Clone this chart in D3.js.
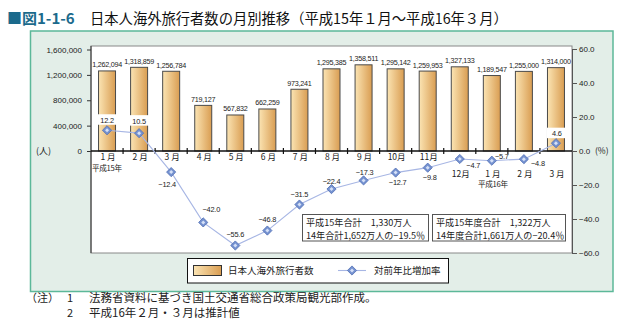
<!DOCTYPE html>
<html><head><meta charset="utf-8">
<script src="https://cdn.jsdelivr.net/npm/d3@7/dist/d3.min.js"></script>
<style>
html,body{margin:0;padding:0;background:#fff;}
svg{display:block;}
text{font-family:"Liberation Sans",Arial,sans-serif;}
.jp{font-family:"Noto Sans CJK JP","Noto Sans",sans-serif;}
</style></head>
<body>
<svg id="c" width="622" height="332"></svg>
<script>
// ---- data ----
const months = ["1 月","2 月","3 月","4 月","5 月","6 月","7 月","8 月","9 月","10月","11月","12月","1 月","2 月","3 月"];
const travellers = [1262094,1318859,1256784,719127,567832,662259,973241,1295385,1358511,1295142,1259953,1327133,1189547,1255000,1314000];
const growthRate = [12.2,10.5,-12.4,-42.0,-55.6,-46.8,-31.5,-22.4,-17.3,-12.7,-9.8,-4.7,-5.7,-4.8,4.6];
const leftTicks = [0,400000,800000,1200000,1600000];
const rightTicks = [60,40,20,0,-20,-40,-60];
const yearLabels = [{i:0,t:"平成15年"},{i:12,t:"平成16年"}];
const box1Lines = ["平成15年合計　1,330万人","14年合計1,652万人の−19.5％"];
const box2Lines = ["平成15年度合計　1,322万人","14年度合計1,661万人の−20.4％"];
const legendLabels = ["日本人海外旅行者数","対前年比増加率"];
const titleCode = "■図1-1-6";
const titleText = "日本人海外旅行者数の月別推移（平成15年１月～平成16年３月）";
const notes = [["（注）","1","法務省資料に基づき国土交通省総合政策局観光部作成。"],["","2","平成16年２月・３月は推計値"]];

// ---- layout ----
const svg = d3.select("#c");
const L = 91, R = 572, T = 46, B = 253;
const x = d3.scaleBand().domain(d3.range(months.length)).range([L,R]).paddingInner(0.47).paddingOuter(0.235);
const yL = d3.scaleLinear().domain([0,1600000]).range([151,49.5]);
const yR = d3.scaleLinear().domain([-60,60]).range([253,49]);
const cx = i => x(i) + x.bandwidth()/2;

const defs = svg.append("defs");
const g = defs.append("linearGradient").attr("id","barG").attr("x1","0").attr("x2","1").attr("y1","0").attr("y2","0");
g.append("stop").attr("offset","0%").attr("stop-color","#fbe4b3");
g.append("stop").attr("offset","100%").attr("stop-color","#d99d52");

// title
svg.append("text").attr("x",7).attr("y",24).attr("fill","#1b6a8c").attr("font-weight","bold")
  .attr("font-size",15).attr("class","jp").text(titleCode);
svg.append("text").attr("x",90).attr("y",24).attr("fill","#111")
  .attr("font-size",14.3).attr("class","jp").text(titleText);

// panel
svg.append("rect").attr("x",30.5).attr("y",31).attr("width",582.5).attr("height",260.5)
  .attr("fill","#e3eee8").attr("stroke","#5cb899").attr("stroke-width",1.5);
// plot area
svg.append("rect").attr("x",L).attr("y",T).attr("width",R-L).attr("height",B-T)
  .attr("fill","#fff").attr("stroke","#888").attr("stroke-width",1);

// bars
svg.append("g").selectAll("rect").data(travellers).join("rect")
  .attr("x",(d,i)=>x(i)).attr("y",d=>yL(d)).attr("width",x.bandwidth()).attr("height",d=>yL(0)-yL(d))
  .attr("fill","url(#barG)").attr("stroke","#4a4a4a").attr("stroke-width",1);
// bar labels
const fmtN = d3.format(",");
svg.append("g").selectAll("text").data(travellers).join("text")
  .attr("x",(d,i)=>cx(i)).attr("y",d=>yL(d)-3.5).attr("text-anchor","middle")
  .attr("font-size",7.2).attr("fill","#222").attr("letter-spacing",-0.25).text(d=>fmtN(d));

// left axis
const axL = svg.append("g").attr("transform",`translate(${L},0)`)
  .call(d3.axisLeft(yL).tickValues(leftTicks).tickFormat(fmtN).tickSize(4).tickSizeOuter(0));
axL.select(".domain").attr("stroke","#333").attr("d",`M0,${T}V${B}`);
axL.selectAll("text").attr("font-size",8).attr("fill","#222").attr("font-family","Liberation Sans, Arial").attr("dx",-2);
axL.selectAll("line").attr("stroke","#333");
svg.append("text").attr("x",36).attr("y",154).attr("font-size",9).attr("class","jp").attr("fill","#222").text("(人)");

// right axis
const fmtP = d3.format(".1f");
const axR = svg.append("g").attr("transform",`translate(${R},0)`)
  .call(d3.axisRight(yR).tickValues(rightTicks).tickFormat(fmtP).tickSize(5).tickSizeOuter(0));
axR.select(".domain").attr("stroke","#555");
axR.selectAll("text").attr("font-size",8).attr("fill","#222").attr("font-family","Liberation Sans, Arial").attr("dx",-1);
axR.selectAll("line").attr("stroke","#555");
svg.append("text").attr("x",595).attr("y",154).attr("font-size",8.5).attr("class","jp").attr("fill","#222").text("(%)");

// x axis baseline & ticks
svg.append("line").attr("x1",L).attr("x2",R).attr("y1",yL(0)).attr("y2",yL(0)).attr("stroke","#111").attr("stroke-width",1.6);
const step = x.step();
svg.append("g").selectAll("line").data(d3.range(1,months.length)).join("line")
  .attr("x1",i=>x(i)-(step-x.bandwidth())/2).attr("x2",i=>x(i)-(step-x.bandwidth())/2)
  .attr("y1",yL(0)-3).attr("y2",yL(0)+3).attr("stroke","#111").attr("stroke-width",1.2);

// month labels
svg.append("g").selectAll("text").data(months).join("text")
  .attr("x",(d,i)=>cx(i)+1).attr("y",(d,i)=>i<11?160:176.5).attr("text-anchor","middle")
  .attr("font-size",8.5).attr("class","jp").attr("fill","#222").text(d=>d);
svg.append("g").selectAll("text").data(yearLabels).join("text")
  .attr("x",d=>d.i===0?92:cx(d.i)+1).attr("y",d=>d.i===0?170.5:187)
  .attr("text-anchor",d=>d.i===0?"start":"middle")
  .attr("font-size",7.6).attr("class","jp").attr("fill","#222").attr("letter-spacing",-0.3).text(d=>d.t);

// line
const line = d3.line().x((d,i)=>cx(i)).y(d=>yR(d));
svg.append("path").datum(growthRate).attr("d",line).attr("fill","none").attr("stroke","#a7b6e4").attr("stroke-width",1.1);

// labels of line
const offs = [[0,-10.5,1],[0,-12.5,1],[-4,12,0],[8,-13,0],[0,-12,0],[0,-12,0],[0,-10.5,0],[0,-8.5,0],[1,-8,0],[2,9.5,0],[2,9.5,0],[13.5,6,0],[10,-4.5,0],[14,4,0],[1,-10,1]];
const lg = svg.append("g");
growthRate.forEach((v,i)=>{
  const o = offs[i];
  const tx = cx(i)+o[0], ty = yR(v)+o[1];
  const s = fmtP(v);
  if(o[2]){
    lg.append("rect").attr("x",tx-10).attr("y",ty-5.5).attr("width",20).attr("height",10.5).attr("fill","#fff");
  }
  lg.append("text").attr("x",tx).attr("y",ty+3).attr("text-anchor","middle")
    .attr("font-size",7.4).attr("fill","#222").attr("letter-spacing",-0.2).text(s);
});

// markers
function diamond(sel, px, py){
  sel.append("path").attr("d",`M${px},${py-4.6}L${px+4.6},${py}L${px},${py+4.6}L${px-4.6},${py}Z`)
    .attr("fill","#7592d0").attr("stroke","#4f6db4").attr("stroke-width",0.8);
  sel.append("path").attr("d",`M${px},${py-2}L${px+2},${py}L${px},${py+2}L${px-2},${py}Z`)
    .attr("fill","#d5e0f7");
}
const mg = svg.append("g");
growthRate.forEach((v,i)=>diamond(mg,cx(i),yR(v)));

// summary boxes
function box(x0,y0,w,h,lines){
  svg.append("rect").attr("x",x0).attr("y",y0).attr("width",w).attr("height",h)
    .attr("fill","#fff").attr("stroke","#555").attr("stroke-width",1);
  lines.forEach((t,k)=>svg.append("text").attr("x",x0+3.5).attr("y",y0+11+k*13)
    .attr("font-size",9.1).attr("class","jp").attr("fill","#222").text(t));
}
box(302.5,214.5,126,26.5,box1Lines);
box(432.5,214.5,133,26.5,box2Lines);

// legend
svg.append("rect").attr("x",187.5).attr("y",258.5).attr("width",261).attr("height",24.5)
  .attr("fill","#fff").attr("stroke","#111").attr("stroke-width",1);
svg.append("rect").attr("x",193.5).attr("y",265.5).attr("width",28).attr("height",10)
  .attr("fill","url(#barG)").attr("stroke","#333").attr("stroke-width",1);
svg.append("text").attr("x",228).attr("y",274).attr("font-size",9.5).attr("class","jp").attr("fill","#222").text(legendLabels[0]);
svg.append("line").attr("x1",338).attr("x2",366).attr("y1",270.5).attr("y2",270.5).attr("stroke","#a7b6e4").attr("stroke-width",1.1);
diamond(svg,352,270.5);
svg.append("text").attr("x",374).attr("y",274).attr("font-size",9.5).attr("class","jp").attr("fill","#222").text(legendLabels[1]);

// notes
notes.forEach((n,k)=>{
  const yy = 302 + k*14.5;
  svg.append("text").attr("x",26).attr("y",yy).attr("font-size",11).attr("class","jp").attr("fill","#222").text(n[0]);
  svg.append("text").attr("x",67).attr("y",yy).attr("font-size",11).attr("class","jp").attr("fill","#222").text(n[1]);
  svg.append("text").attr("x",89).attr("y",yy).attr("font-size",11.5).attr("class","jp").attr("fill","#222").text(n[2]);
});
</script>
</body></html>
